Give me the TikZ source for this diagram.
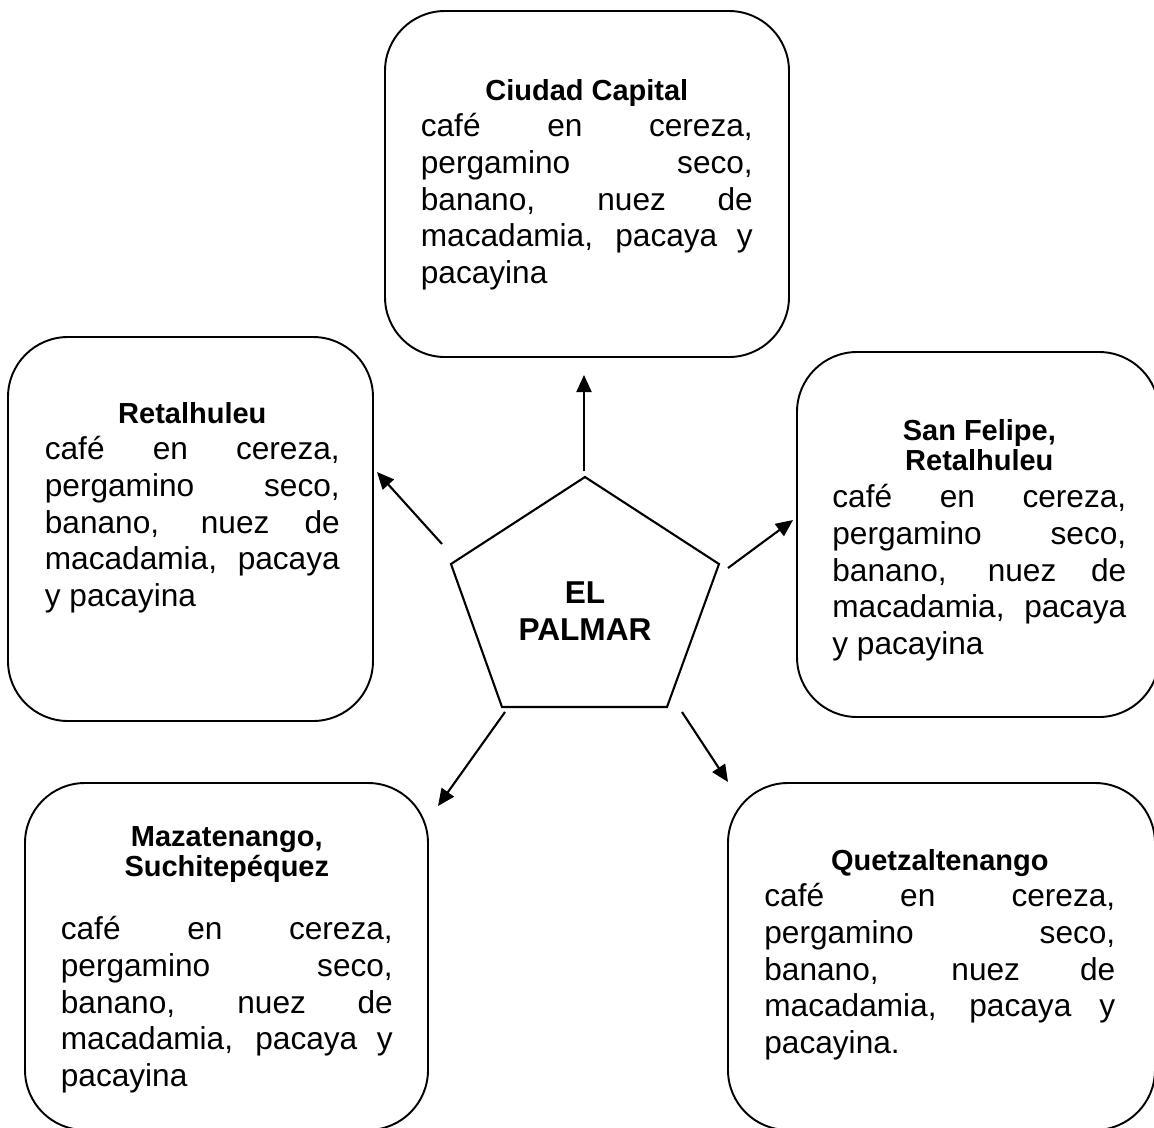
\documentclass[tikz,border=0pt]{standalone}
\usepackage{fontspec}
\setmainfont{Liberation Sans}
\usepackage{tikz}
\usetikzlibrary{arrows.meta, positioning, calc}

\tikzset{
    caja/.style={line width=1.1pt, rounded corners=1.2cm},
    texto/.style={anchor=base west, inner sep=0pt, align=justify,
            font=\fontsize{18}{20.9}\selectfont},
    flecha/.style={line width=1.2pt, -{Triangle[length=0.34cm, width=0.3cm]}},
}
\newcommand{\titulo}[1]{{\fontsize{16.5}{17.6}\selectfont\bfseries
        \hbox to\linewidth{\hss#1\hss}\par}}
\tolerance=10000
\hbadness=10000

\begin{document}
\begin{tikzpicture}[x=0.02cm, y=-0.02cm]
    \useasboundingbox (0,0) rectangle (1154,1127);

    % cajas
    \draw[caja] (385,11) rectangle (789,357);
    \draw[caja] (8,337) rectangle (373,721);
    \draw[caja] (797,352) rectangle (1159,717);
    \draw[caja] (25,783) rectangle (428,1130);
    \draw[caja] (728,783) rectangle (1155,1130);

    % textos
    \node[texto, text width=6.64cm] (cap) at (420.5,100) {\titulo{Ciudad Capital}%
        \noindent café en cereza,\linebreak pergamino seco,\linebreak banano, nuez de\linebreak
        macadamia, pacaya y\linebreak pacayina};
    \node[texto, text width=5.9cm] (ret) at (44.5,423) {\titulo{Retalhuleu}%
        \noindent café en cereza,\linebreak pergamino seco,\linebreak banano, nuez de\linebreak
        macadamia, pacaya\linebreak y pacayina};
    \node[texto, text width=5.88cm] (sfe) at (832,440) {\titulo{San Felipe,}\titulo{Retalhuleu}%
        \noindent café en cereza,\linebreak pergamino seco,\linebreak banano, nuez de\linebreak
        macadamia, pacaya\linebreak y pacayina};
    \node[texto, text width=6.64cm] (maz) at (60.5,846) {\titulo{Mazatenango,}\titulo{Suchitepéquez}%
        \vspace{0.52cm}%
        \noindent café en cereza,\linebreak pergamino seco,\linebreak banano, nuez de\linebreak
        macadamia, pacaya y\linebreak pacayina};
    \node[texto, text width=7.02cm] (que) at (764,870) {\titulo{Quetzaltenango}%
        \noindent café en cereza,\linebreak pergamino seco,\linebreak banano, nuez de\linebreak
        macadamia, pacaya y\linebreak pacayina.};

    % pentagono
    \draw[line width=1.2pt, line join=miter] (585,477) -- (719,564) -- (667,707)
        -- (502,707) -- (451,564) -- cycle;
    \node[inner sep=0pt, anchor=base, align=center,
        font=\fontsize{18}{20.9}\selectfont\bfseries] (pal) at (585,640) {EL\\PALMAR};

    % flechas
    \coordinate (s1) at (584,471);  \coordinate (e1) at (584,375);
    \coordinate (s2) at (442,544);  \coordinate (e2) at (377,472);
    \coordinate (s3) at (728,568);  \coordinate (e3) at (793,520);
    \coordinate (s4) at (505,712);  \coordinate (e4) at (438,806);
    \coordinate (s5) at (682,712);  \coordinate (e5) at (728,782);
    \foreach \a/\b in {s1/e1, s2/e2, s3/e3, s4/e4, s5/e5} {
            \draw[flecha] (\a) -- (\b);
        }
\end{tikzpicture}
\end{document}
